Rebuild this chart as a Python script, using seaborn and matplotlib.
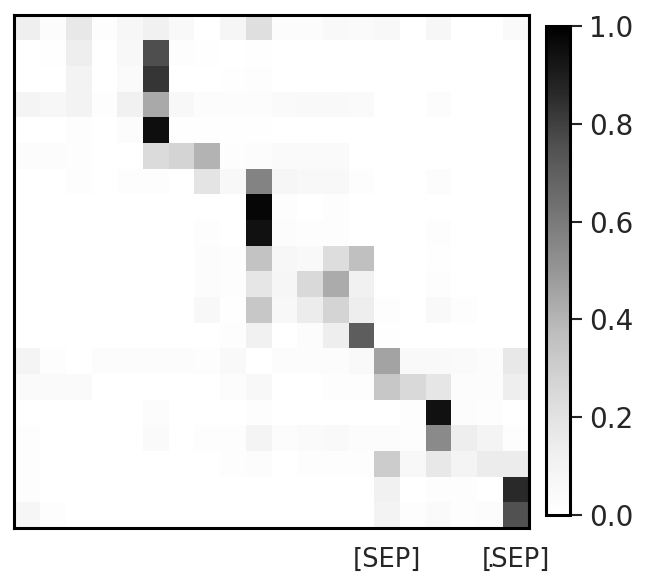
import numpy as np
import pandas as pd
import matplotlib
matplotlib.use("Agg")
import matplotlib.pyplot as plt
import seaborn as sns

# Column tokens (only a few are shown in the reference)
x_tokens = ["", "", "", "", "", "", "", "", "", "", "", "", "", "", "[SEP]", "", "", "", ".", "[SEP]"]

# Attention weights, one list per row
row_00 = [0.13, 0.03, 0.17, 0.02, 0.07, 0.12, 0.05, 0.00, 0.08, 0.22, 0.03, 0.03, 0.05, 0.04, 0.06, 0.00, 0.07, 0.00, 0.00, 0.04]
row_01 = [0.00, 0.01, 0.14, 0.00, 0.06, 0.76, 0.02, 0.01, 0.00, 0.01, 0.00, 0.00, 0.00, 0.00, 0.00, 0.00, 0.00, 0.00, 0.00, 0.00]
row_02 = [0.00, 0.00, 0.10, 0.00, 0.04, 0.83, 0.00, 0.00, 0.01, 0.02, 0.00, 0.00, 0.00, 0.00, 0.00, 0.00, 0.00, 0.00, 0.00, 0.00]
row_03 = [0.09, 0.07, 0.10, 0.02, 0.12, 0.44, 0.06, 0.03, 0.03, 0.03, 0.04, 0.05, 0.05, 0.04, 0.00, 0.00, 0.03, 0.00, 0.00, 0.00]
row_04 = [0.00, 0.00, 0.02, 0.00, 0.03, 0.95, 0.01, 0.01, 0.01, 0.01, 0.00, 0.00, 0.00, 0.00, 0.00, 0.00, 0.00, 0.00, 0.00, 0.00]
row_05 = [0.03, 0.03, 0.02, 0.00, 0.00, 0.24, 0.27, 0.41, 0.02, 0.03, 0.04, 0.04, 0.04, 0.00, 0.00, 0.00, 0.00, 0.00, 0.00, 0.00]
row_06 = [0.00, 0.00, 0.02, 0.00, 0.02, 0.02, 0.00, 0.19, 0.06, 0.57, 0.08, 0.06, 0.06, 0.02, 0.00, 0.00, 0.03, 0.00, 0.00, 0.00]
row_07 = [0.00, 0.00, 0.00, 0.00, 0.00, 0.00, 0.00, 0.00, 0.00, 0.98, 0.02, 0.00, 0.02, 0.00, 0.00, 0.00, 0.00, 0.00, 0.00, 0.00]
row_08 = [0.00, 0.00, 0.00, 0.00, 0.00, 0.00, 0.00, 0.02, 0.00, 0.94, 0.03, 0.02, 0.02, 0.00, 0.00, 0.00, 0.02, 0.00, 0.00, 0.00]
row_09 = [0.00, 0.00, 0.00, 0.00, 0.00, 0.00, 0.00, 0.03, 0.02, 0.35, 0.07, 0.05, 0.23, 0.36, 0.00, 0.00, 0.01, 0.00, 0.00, 0.00]
row_10 = [0.00, 0.00, 0.00, 0.00, 0.00, 0.00, 0.00, 0.03, 0.02, 0.18, 0.08, 0.25, 0.43, 0.12, 0.00, 0.00, 0.02, 0.00, 0.00, 0.00]
row_11 = [0.00, 0.00, 0.00, 0.00, 0.00, 0.00, 0.00, 0.06, 0.01, 0.33, 0.06, 0.15, 0.27, 0.14, 0.02, 0.00, 0.05, 0.02, 0.00, 0.00]
row_12 = [0.00, 0.00, 0.00, 0.00, 0.00, 0.00, 0.00, 0.00, 0.02, 0.12, 0.00, 0.03, 0.14, 0.71, 0.01, 0.00, 0.00, 0.00, 0.00, 0.00]
row_13 = [0.09, 0.02, 0.00, 0.03, 0.03, 0.03, 0.03, 0.02, 0.05, 0.00, 0.03, 0.03, 0.03, 0.05, 0.46, 0.05, 0.05, 0.04, 0.03, 0.17]
row_14 = [0.04, 0.04, 0.04, 0.00, 0.00, 0.00, 0.00, 0.00, 0.03, 0.06, 0.00, 0.00, 0.02, 0.02, 0.33, 0.25, 0.18, 0.03, 0.03, 0.14]
row_15 = [0.00, 0.00, 0.00, 0.00, 0.00, 0.03, 0.00, 0.00, 0.00, 0.02, 0.00, 0.00, 0.00, 0.00, 0.00, 0.02, 0.94, 0.03, 0.02, 0.00]
row_16 = [0.02, 0.00, 0.00, 0.00, 0.00, 0.04, 0.00, 0.02, 0.02, 0.09, 0.03, 0.04, 0.05, 0.03, 0.03, 0.02, 0.54, 0.14, 0.09, 0.02]
row_17 = [0.02, 0.00, 0.00, 0.00, 0.00, 0.00, 0.00, 0.00, 0.02, 0.03, 0.00, 0.02, 0.02, 0.02, 0.31, 0.06, 0.17, 0.09, 0.15, 0.15]
row_18 = [0.02, 0.00, 0.00, 0.00, 0.00, 0.00, 0.00, 0.00, 0.00, 0.00, 0.00, 0.00, 0.00, 0.00, 0.12, 0.00, 0.02, 0.02, 0.00, 0.86]
row_19 = [0.08, 0.02, 0.00, 0.00, 0.00, 0.00, 0.00, 0.00, 0.00, 0.00, 0.00, 0.00, 0.00, 0.00, 0.10, 0.02, 0.04, 0.02, 0.03, 0.75]

rows = [row_00, row_01, row_02, row_03, row_04, row_05, row_06, row_07, row_08, row_09,
        row_10, row_11, row_12, row_13, row_14, row_15, row_16, row_17, row_18, row_19]

sns.set_theme(style="ticks", context="talk")
plt.rcParams["font.family"] = ["DejaVu Sans"]

W, H = 650, 587
fig = plt.figure(figsize=(W / 100, H / 100), dpi=100)
ax = fig.add_axes([14.5 / W, 1 - 528 / H, 514 / W, 513.5 / H])
cax = fig.add_axes([545.5 / W, 1 - 515 / H, 24 / W, 489 / H])

df = pd.DataFrame(np.array(rows))
sns.heatmap(df, ax=ax, cbar_ax=cax, cmap="Greys", vmin=0, vmax=1,
            xticklabels=x_tokens, yticklabels=False)

for s in ax.spines.values():
    s.set_visible(True)
    s.set_color("black")
    s.set_linewidth(2.2)

ax.tick_params(axis="x", length=0, pad=13.5, labelsize=18.5, labelcolor="#262626", rotation=0)
ax.tick_params(axis="y", length=0)

cbar = ax.collections[0].colorbar
cbar.outline.set_edgecolor("black")
cbar.outline.set_linewidth(2.2)
cbar.set_ticks([0.0, 0.2, 0.4, 0.6, 0.8, 1.0])
cbar.ax.tick_params(labelsize=20, length=8.5, width=1.5, color="#262626",
                    labelcolor="#262626", pad=5.5)

fig.savefig("out.png", dpi=100)
